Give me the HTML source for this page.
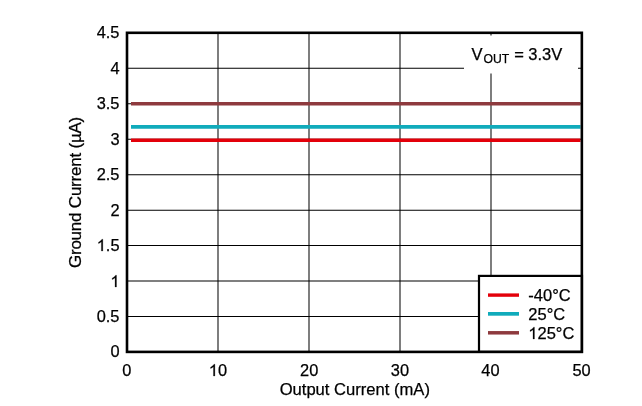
<!DOCTYPE html>
<html>
<head>
<meta charset="utf-8">
<style>
html,body{margin:0;padding:0;background:#fff;width:642px;height:406px;overflow:hidden;}
svg{display:block;will-change:transform;}
.h{fill:none;stroke:none;}
text{font-family:"Liberation Sans",sans-serif;fill:#000;stroke:#000;stroke-width:0.25px;}
</style>
</head>
<body>
<svg width="642" height="406" viewBox="0 0 642 406">
<defs><path id="one" d="M763,0 L583,0 L583,1147 Q518,1085 412.5,1023 Q307,961 223,930 L223,1104 Q374,1175 489,1277.5 Q604,1380 652,1472 L763,1472 Z"/></defs>
<rect x="0" y="0" width="642" height="406" fill="#fff"/>
<!-- horizontal gridlines -->
<g stroke="#000" stroke-width="1.02" fill="none">
<line x1="127" y1="68.3" x2="582" y2="68.3"/>
<line x1="127" y1="103.7" x2="582" y2="103.7"/>
<line x1="127" y1="139.2" x2="582" y2="139.2"/>
<line x1="127" y1="174.65" x2="582" y2="174.65"/>
<line x1="127" y1="210.2" x2="582" y2="210.2"/>
<line x1="127" y1="245.6" x2="582" y2="245.6"/>
<line x1="127" y1="281" x2="582" y2="281"/>
<line x1="127" y1="316.5" x2="582" y2="316.5"/>
<!-- vertical gridlines -->
<line x1="218" y1="33" x2="218" y2="352"/>
<line x1="309" y1="33" x2="309" y2="352"/>
<line x1="400" y1="33" x2="400" y2="352"/>
<line x1="491" y1="33" x2="491" y2="352"/>
</g>
<!-- white box behind VOUT label -->
<rect x="464" y="35.5" width="114" height="38" fill="#fff"/>
<!-- data lines -->
<g fill="none">
<line x1="131" y1="103.8" x2="580.5" y2="103.8" stroke="#8e3a3e" stroke-width="3.5"/>
<line x1="131" y1="126.95" x2="580.5" y2="126.95" stroke="#10abbb" stroke-width="3.7"/>
<line x1="131" y1="140.3" x2="580.5" y2="140.3" stroke="#e3000a" stroke-width="3.5"/>
</g>
<!-- legend -->
<rect x="479" y="275.9" width="103" height="76" fill="#fff" stroke="#000" stroke-width="2.2"/>
<g fill="none">
<line x1="488" y1="295.1" x2="519" y2="295.1" stroke="#e3000a" stroke-width="3.4"/>
<line x1="488" y1="313.85" x2="519" y2="313.85" stroke="#10abbb" stroke-width="3.7"/>
<line x1="488" y1="332.8" x2="519" y2="332.8" stroke="#8e3a3e" stroke-width="3.5"/>
</g>
<g font-size="16.5">
<text x="528.3" y="301">-40°C</text>
<text x="528.3" y="320">25°C</text>
<text x="528.3" y="339"><tspan class="h">1</tspan>25°C</text>
</g>
<!-- frame -->
<rect x="127" y="32.8" width="454.85" height="319.1" fill="none" stroke="#000" stroke-width="2.6"/>
<!-- y tick labels -->
<g font-size="16.4" text-anchor="end">
<text x="119.5" y="38">4.5</text>
<text x="119.5" y="74">4</text>
<text x="119.5" y="109">3.5</text>
<text x="119.5" y="145">3</text>
<text x="119.5" y="180">2.5</text>
<text x="119.5" y="216">2</text>
<text x="119.5" y="251"><tspan class="h">1</tspan>.5</text>
<text x="119.5" y="287"><tspan class="h">1</tspan></text>
<text x="119.5" y="322">0.5</text>
<text x="119.5" y="357">0</text>
</g>
<!-- x tick labels -->
<g font-size="16.4" text-anchor="middle">
<text x="126.8" y="376">0</text>
<text x="217.9" y="376"><tspan class="h">1</tspan>0</text>
<text x="309.2" y="376">20</text>
<text x="399.9" y="376">30</text>
<text x="490.4" y="376">40</text>
<text x="581.6" y="376">50</text>
</g>
<!-- axis titles -->
<text x="354.8" y="395" font-size="16.6" text-anchor="middle">Output Current (mA)</text>
<text transform="translate(80.5,192.5) rotate(-90)" x="0" y="0" font-size="17" letter-spacing="-0.22" text-anchor="middle">Ground Current (µA)</text>
<!-- VOUT label -->
<text x="471.5" y="60" font-size="16.5">V<tspan font-size="12.2" dx="0.9" dy="3">OUT</tspan><tspan dx="0.4" dy="-3"> = 3.3V</tspan></text>
<!-- Arial-style "1" glyphs -->
<g fill="#000" stroke="#000" stroke-width="31">
<use href="#one" transform="translate(528.3,339) scale(0.008057,-0.008057)"/>
<use href="#one" transform="translate(96.703,251) scale(0.008008,-0.008008)"/>
<use href="#one" transform="translate(110.375,287) scale(0.008008,-0.008008)"/>
<use href="#one" transform="translate(208.775,376) scale(0.008008,-0.008008)"/>
</g>
</svg>
</body>
</html>
